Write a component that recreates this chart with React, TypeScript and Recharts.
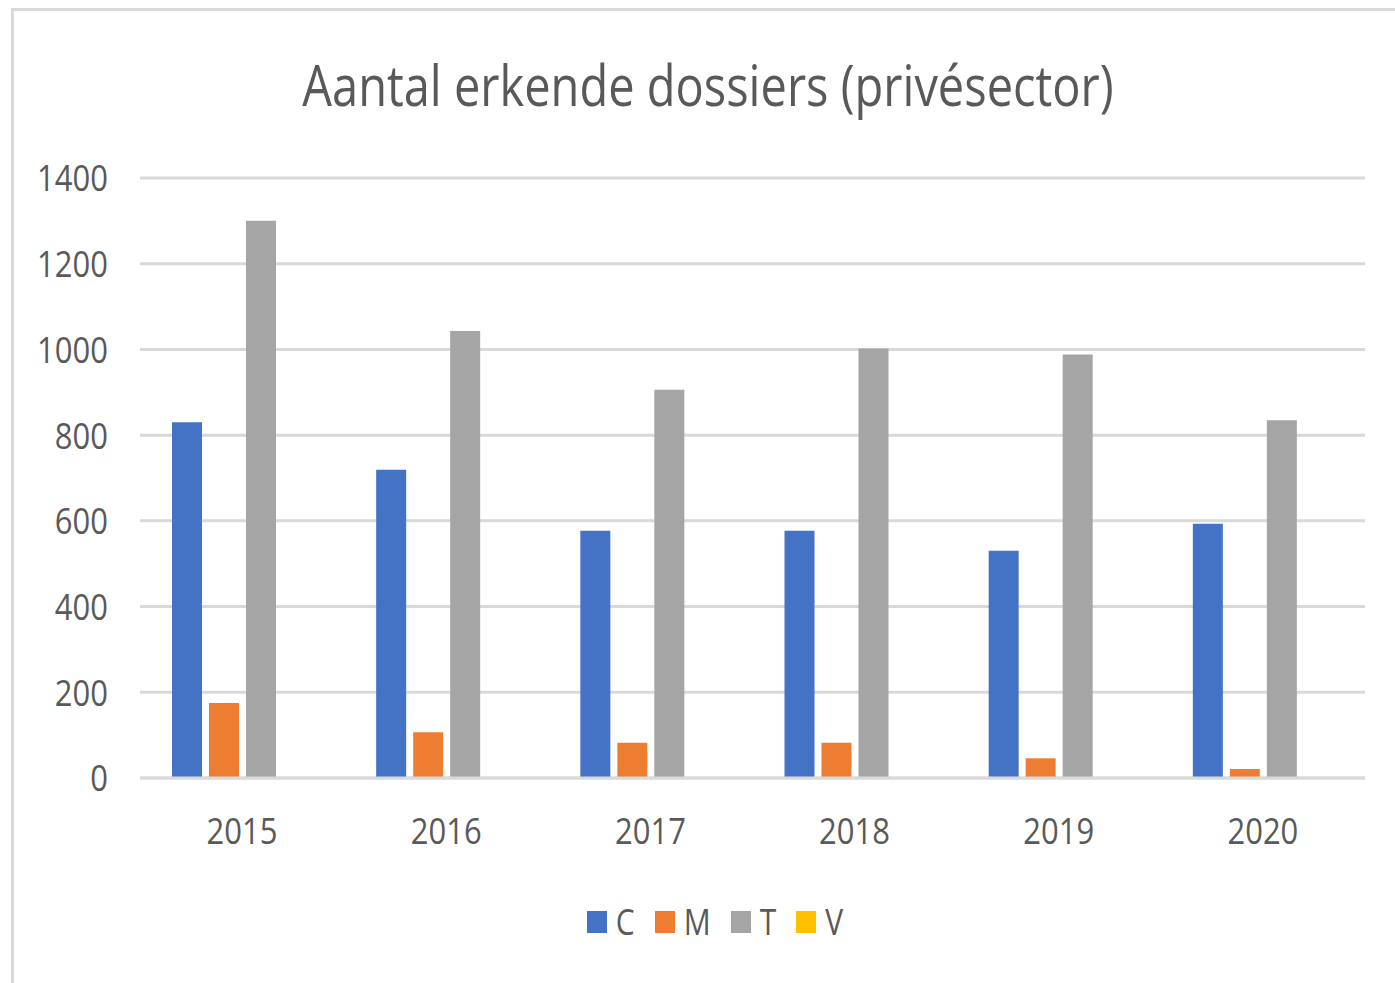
import React from "react";
import { BarChart, Bar, XAxis, YAxis, CartesianGrid, Legend } from "recharts";

const years = ["2015", "2016", "2017", "2018", "2019", "2020"];
const seriesC = [830, 719, 577, 577, 530, 593];
const seriesM = [175, 107, 82, 82, 46, 21];
const seriesT = [1300, 1043, 906, 1002, 988, 835];
const seriesV = [0, 0, 0, 0, 0, 0];
const yTicks = [0, 200, 400, 600, 800, 1000, 1200, 1400];
const title = "Aantal erkende dossiers (privésector)";

const series = [
  { key: "C", values: seriesC, color: "#4472C4" },
  { key: "M", values: seriesM, color: "#ED7D31" },
  { key: "T", values: seriesT, color: "#A5A5A5" },
  { key: "V", values: seriesV, color: "#FFC000" },
];

const data = years.map((y, i) => {
  const row: Record<string, string | number> = { year: y };
  series.forEach((s) => {
    row[s.key] = s.values[i];
  });
  return row;
});

const FONT = "'Open Sans', 'Noto Sans', sans-serif";
const TEXT = "#595959";

const LegendContent = (props: any) => {
  const payload = props.payload || [];
  return (
    <div
      style={{
        display: "flex",
        justifyContent: "center",
        alignItems: "center",
        height: 44,
        paddingLeft: 55,
        boxSizing: "border-box",
        width: "100%",
      }}
    >
      {payload.map((p: any) => (
        <div key={p.value} style={{ display: "flex", alignItems: "center", marginRight: 20 }}>
          <div style={{ width: 20, height: 22, background: p.color, marginRight: 9 }} />
          <span
            style={{
              fontFamily: FONT,
              fontSize: 30,
              color: TEXT,
              display: "inline-block",
              transform: "scaleY(1.2)",
              lineHeight: "44px",
            }}
          >
            {p.value}
          </span>
        </div>
      ))}
    </div>
  );
};

export default function App() {
  return (
    <div
      style={{
        position: "absolute",
        left: 0,
        top: 0,
        width: 1395,
        height: 983,
        background: "#ffffff",
        overflow: "hidden",
      }}
    >
      <style>{`
        .recharts-cartesian-axis-tick-value {
          transform-box: fill-box;
          transform-origin: center;
          transform: scaleY(1.2);
        }
      `}</style>
      <div
        style={{
          position: "absolute",
          left: 11,
          top: 8,
          width: 1500,
          height: 1100,
          borderLeft: "3px solid #d9d9d9",
          borderTop: "3px solid #d9d9d9",
        }}
      />
      <div
        style={{
          position: "absolute",
          left: 0,
          top: 54,
          width: 1416,
          height: 60,
          lineHeight: "60px",
          textAlign: "center",
          fontFamily: FONT,
          fontSize: 47,
          color: TEXT,
          transform: "scaleY(1.2)",
          whiteSpace: "nowrap",
        }}
      >
        {title}
      </div>
      <div style={{ position: "absolute", left: 0, top: 0 }}>
        <BarChart
          width={1395}
          height={983}
          data={data}
          margin={{ top: 178, right: 30, bottom: 175, left: 0 }}
          barSize={30}
          barGap={7}
        >
          <CartesianGrid vertical={false} stroke="#d9d9d9" strokeWidth={3} />
          <XAxis
            dataKey="year"
            height={30}
            axisLine={{ stroke: "#d9d9d9", strokeWidth: 3 }}
            tickLine={false}
            tickSize={0}
            tickMargin={42}
            tick={{ fill: TEXT, fontSize: 31, fontFamily: FONT }}
          />
          <YAxis
            width={140}
            domain={[0, 1400]}
            ticks={yTicks}
            axisLine={false}
            tickLine={false}
            tickSize={0}
            tickMargin={32}
            tick={{ fill: TEXT, fontSize: 31, fontFamily: FONT }}
          />
          <Legend
            verticalAlign="middle"
            align="center"
            layout="horizontal"
            content={<LegendContent />}
            wrapperStyle={{ position: "absolute", top: 900, left: 0, width: 1395 }}
          />
          {series.map((s) => (
            <Bar key={s.key} dataKey={s.key} fill={s.color} isAnimationActive={false} />
          ))}
        </BarChart>
      </div>
    </div>
  );
}
